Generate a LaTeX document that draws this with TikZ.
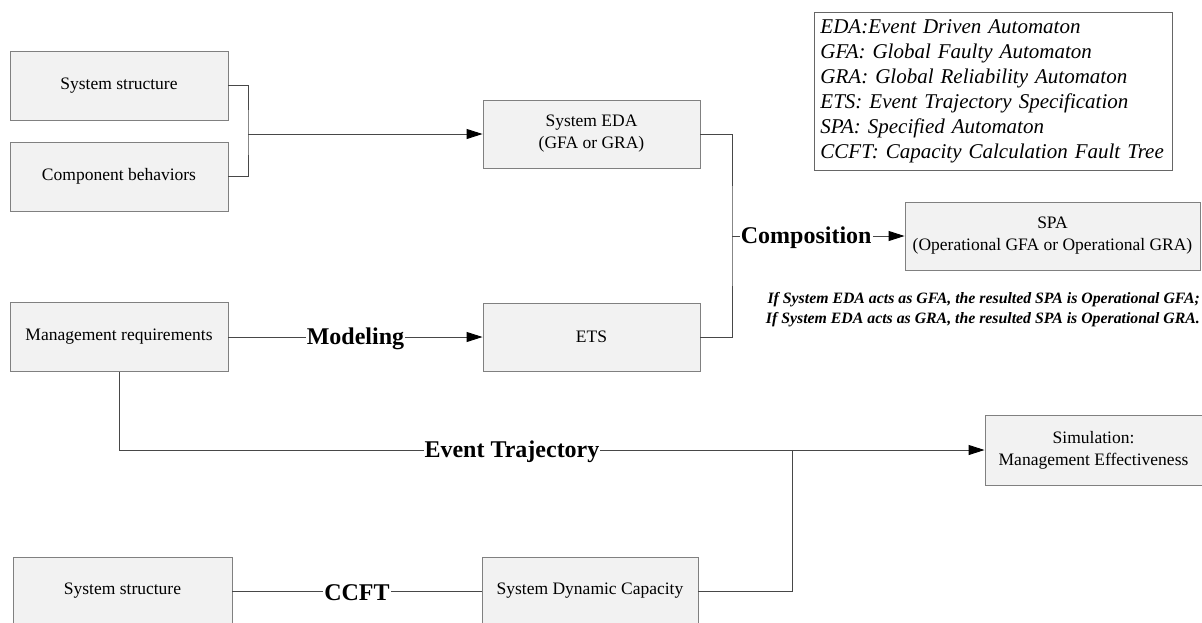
\documentclass[tikz,border=0pt]{standalone}
\usepackage{fontspec}
\setmainfont{Liberation Serif}
\usetikzlibrary{arrows.meta}

\begin{document}
\begin{tikzpicture}[x=1pt,y=-1pt]
\tikzset{VertexStyle/.style={rectangle, draw=black!50, fill=black!5, line width=0.9pt, minimum width=218pt, minimum height=69pt, inner sep=2pt, align=center, font=\fontsize{17.5}{22}\selectfont}}
\tikzset{EdgeStyle/.style={draw=black!72, line width=0.9pt}}
\tikzset{ArrowStyle/.style={EdgeStyle, -{Triangle[length=16pt,width=10pt,color=black]}}}
\tikzset{LabelStyle/.style={fill=white, inner sep=1pt, yshift=-2pt, font=\fontsize{24}{28}\selectfont\bfseries}}
\clip (0,0) rectangle (1202,622);
\node[VertexStyle] (ss) at (119,85.5) {System structure};
\node[VertexStyle] (cb) at (119,176.5) {Component behaviors};
\node[VertexStyle, minimum width=217pt, minimum height=68pt] (eda) at (591.5,134) {System EDA\\(GFA or GRA)};
\node[VertexStyle] (mr) at (119,337) {Management requirements};
\node[VertexStyle, minimum width=217pt, minimum height=68pt] (ets) at (591.5,337) {ETS};
\node[VertexStyle, minimum width=295pt, minimum height=68pt] (spa) at (1052.5,236) {SPA\\(Operational GFA or Operational GRA)};
\node[VertexStyle, minimum width=217pt, minimum height=70pt] (sim) at (1093.5,450) {Simulation:\\Management Effectiveness};
\node[VertexStyle, minimum width=219pt, minimum height=68pt] (ss2) at (122.5,591) {System structure};
\node[VertexStyle, minimum width=216pt, minimum height=68pt] (sdc) at (590,591) {System Dynamic Capacity};
\node[draw=black!60, line width=0.9pt, anchor=north west, minimum width=358pt, minimum height=158pt, text width=346pt, align=left, font=\fontsize{21}{25}\selectfont\itshape] (legend) at (814,12) {EDA:Event Driven Automaton\\GFA: Global Faulty Automaton\\GRA: Global Reliability Automaton\\ETS: Event Trajectory Specification\\SPA: Specified Automaton\\CCFT: Capacity Calculation Fault Tree};
\node[anchor=east, align=right, inner sep=0pt, font=\fontsize{15.8}{20}\selectfont\bfseries\itshape] (note) at (1200,310) {If System EDA acts as GFA, the resulted SPA is Operational GFA;\\If System EDA acts as GRA, the resulted SPA is Operational GRA.};
\coordinate (j1) at (248,134);
\coordinate (j2) at (732,236);
\coordinate (j3) at (792,450);
\draw[EdgeStyle] (ss.east) -| (j1) |- (cb.east);
\draw[ArrowStyle] (j1) -- (eda.west);
\draw[EdgeStyle] (eda.east) -| (j2) |- (ets.east);
\draw[ArrowStyle] (j2) -- node[LabelStyle, pos=0.43] {Composition} (spa.west);
\draw[ArrowStyle] (mr.east) -- node[LabelStyle] {Modeling} (ets.west);
\draw[ArrowStyle] (mr.south) |- node[LabelStyle, pos=0.727] {Event Trajectory} (sim.west);
\draw[EdgeStyle] (ss2.east) -- node[LabelStyle] {CCFT} (sdc.west);
\draw[EdgeStyle] (sdc.east) -| (j3);
\end{tikzpicture}
\end{document}
